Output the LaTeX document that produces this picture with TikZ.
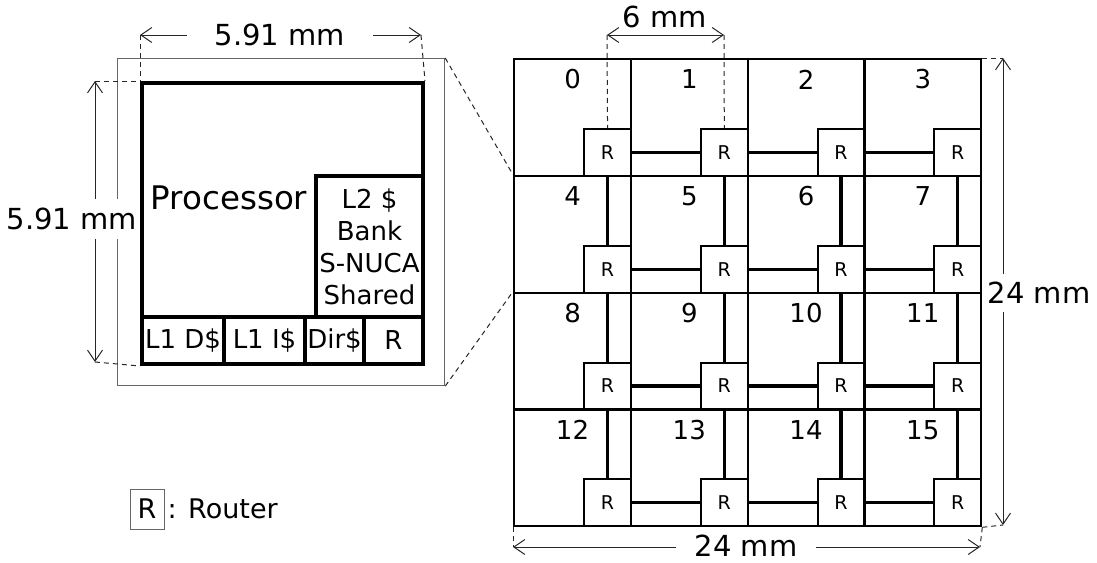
\documentclass[tikz,border=0pt]{standalone}
\usepackage{fontspec}
\setmainfont{DejaVu Sans}
\usetikzlibrary{arrows.meta,positioning}

\tikzset{
  cell/.style={draw,line width=2.3pt,minimum size=116.75pt,inner sep=0pt,anchor=north west},
  router/.style={draw,fill=white,line width=2pt,minimum size=47pt,inner sep=0pt,
    anchor=south east,font=\fontsize{19}{22}\selectfont},
  num/.style={font=\fontsize{26}{30}\selectfont,inner sep=0pt},
  link/.style={line width=3.2pt},
  part/.style={draw,line width=4pt,inner sep=0pt,anchor=north west,
    font=\fontsize{26}{32}\selectfont,align=center},
  dim/.style={black!85,line width=1pt,
    {Straight Barb[length=11pt,width=15pt]}-{Straight Barb[length=11pt,width=15pt]}},
  ext/.style={black!85,line width=1pt,dash pattern=on 5pt off 4pt},
  dimlabel/.style={fill=white,font=\fontsize{29}{34}\selectfont,inner ysep=2pt},
}

\begin{document}
\begin{tikzpicture}[x=1pt,y=-1pt]
  \useasboundingbox (0,0) rectangle (1097,562);

  % Csempe (egy mag) nagyitva
  \node[draw=black!60,line width=1.2pt,minimum size=327pt,inner sep=0pt,anchor=north west] (chip) at (117,58) {};
  \node[part,minimum width=281pt,minimum height=281pt] (tile) at (140,81) {};
  \node[part,minimum width=107pt,minimum height=141pt] (ltwo) at (314,174) {L2 \$\\Bank\\S-NUCA\\Shared};
  \node[part,minimum width=82pt,minimum height=47pt] (lod) at (140,315) {L1 D\$};
  \node[part,minimum width=81pt,minimum height=47pt] (loi) at (222,315) {L1 I\$};
  \node[part,minimum width=59pt,minimum height=47pt] (dir) at (303,315) {Dir\$};
  \node[part,minimum width=59pt,minimum height=47pt] (trt) at (362,315) {R};
  \node[font=\fontsize{32.5}{36}\selectfont] (proc) at (229,198) {Processor};

  % Meretek a csempen
  \coordinate (tl) at (140,35);
  \coordinate (tr) at (421,35);
  \draw[ext] (tl) -- (tile.north west);
  \draw[ext] (tr) -- (tile.north east);
  \draw[dim] (tl) -- (tr);
  \node[dimlabel,inner xsep=28pt] (tdim) at (280,35) {5.91 mm};
  \coordinate (lt) at (95,81);
  \coordinate (lb) at (95,362);
  \draw[ext] (lt) -- (tile.north west);
  \draw[ext] (lb) -- (tile.south west);
  \draw[dim] (lt) -- (lb);
  \node[dimlabel,inner sep=0pt,inner ysep=9pt] (ldim) at (72,219) {5.91 mm};

  % 4x4 racs routerekkel
  \foreach \i in {0,...,15}{
    \pgfmathtruncatemacro\col{mod(\i,4)}
    \pgfmathtruncatemacro\row{div(\i,4)}
    \node[cell] (c\i) at (513+\col*116.75,58+\row*116.75) {};
    \node[num,yshift=-21.5pt] (n\i) at (c\i.north) {\i};
    \node[router] (r\i) at (c\i.south east) {R};
  }
  % Linkek
  \foreach \row in {0,...,3}{
    \foreach \col in {1,2,3}{
      \pgfmathtruncatemacro\b{4*\row+\col}
      \pgfmathtruncatemacro\a{\b-1}
      \draw[link] (r\a.east) -- (r\b.west);
    }
  }
  \foreach \b in {4,...,15}{
    \pgfmathtruncatemacro\a{\b-4}
    \draw[link] (r\a.south) -- (r\b.north);
  }

  % Nagyitas vonalai
  \draw[ext] (chip.north east) -- (c4.north west);
  \draw[ext] (chip.south east) -- (c8.north west);

  % Meretek a racson
  \coordinate (sl) at (607,35);
  \coordinate (sr) at (724,35);
  \draw[ext] (sl) -- (r0.north);
  \draw[ext] (sr) -- (r1.north);
  \draw[dim] (sl) -- (sr);
  \node[font=\fontsize{29}{34}\selectfont] (sdim) at (665,17) {6 mm};

  \coordinate (rt) at (1003,58);
  \coordinate (rb) at (1003,525);
  \draw[ext] (c3.north east) -- (rt);
  \draw[ext] (c15.south east) -- (rb);
  \draw[dim] (rt) -- (rb);
  \node[dimlabel,inner xsep=1pt,inner ysep=8pt] (rdim) at (1039,293) {24 mm};

  \coordinate (bl) at (513,547);
  \coordinate (br) at (980,547);
  \draw[ext] (c12.south west) -- (bl);
  \draw[ext] (c15.south east) -- (br);
  \draw[dim] (bl) -- (br);
  \node[dimlabel,inner xsep=19pt,inner ysep=0pt] (bdim) at (746,546) {24 mm};

  % Jelmagyarazat
  \node[draw=black!60,line width=1pt,minimum width=34pt,minimum height=40pt,inner sep=0pt,
    font=\fontsize{27}{30}\selectfont] (legr) at (147,509) {R};
  \node[right=3pt of legr,inner sep=0pt,font=\fontsize{27}{30}\selectfont] (legt) {: Router};
\end{tikzpicture}
\end{document}
